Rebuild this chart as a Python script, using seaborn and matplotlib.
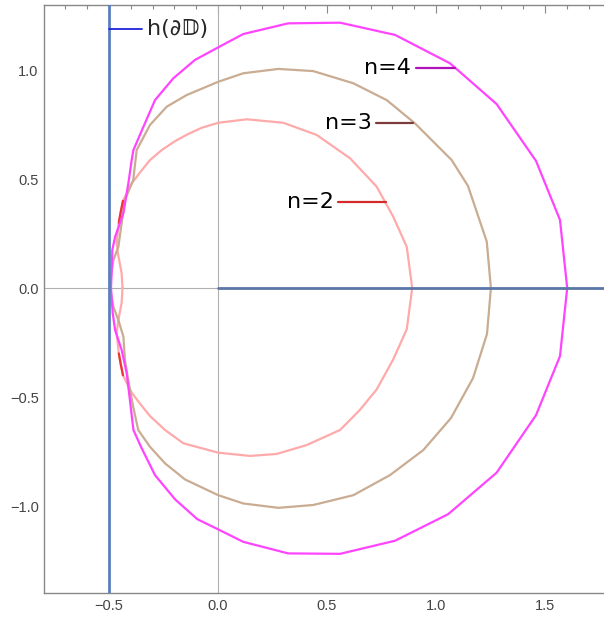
import matplotlib
matplotlib.use("Agg")
import matplotlib.pyplot as plt
import seaborn as sns
from matplotlib.ticker import MultipleLocator, FuncFormatter

# curve vertices (closed loops, start at the left point on y=0)
n2_x = [-0.438, -0.442, -0.458, -0.465, -0.455, -0.446, -0.436, -0.396, -0.350, -0.312, -0.258, -0.200,
        -0.144, -0.075, 0.001, 0.132, 0.300, 0.453, 0.606, 0.728, 0.804, 0.866, 0.891,
        0.866, 0.804, 0.728, 0.650, 0.560, 0.407, 0.269, 0.147, 0.001, -0.159, -0.243, -0.312,
        -0.350, -0.396, -0.436, -0.446, -0.455, -0.465, -0.458, -0.442, -0.438]
n2_y = [0.0, 0.067, 0.153, 0.205, 0.300, 0.350, 0.400, 0.480, 0.540, 0.587, 0.633, 0.672,
        0.703, 0.735, 0.758, 0.774, 0.758, 0.702, 0.595, 0.465, 0.327, 0.189, 0.0,
        -0.189, -0.327, -0.465, -0.560, -0.651, -0.720, -0.761, -0.770, -0.755, -0.712, -0.651, -0.587,
        -0.540, -0.480, -0.400, -0.350, -0.300, -0.205, -0.153, -0.067, 0.0]

n3_x = [-0.495, -0.492, -0.480, -0.457, -0.442, -0.427, -0.389, -0.373, -0.312, -0.235, -0.144,
        0.001, 0.116, 0.277, 0.437, 0.621, 0.774, 0.904, 1.072, 1.147, 1.233, 1.252,
        1.234, 1.170, 1.069, 0.942, 0.789, 0.621, 0.437, 0.277, 0.116, 0.001, -0.151, -0.243,
        -0.312, -0.366, -0.390, -0.412, -0.427, -0.434, -0.457, -0.480, -0.495]
n3_y = [0.0, 0.052, 0.128, 0.189, 0.298, 0.404, 0.495, 0.633, 0.748, 0.832, 0.885,
        0.946, 0.985, 1.005, 0.995, 0.939, 0.862, 0.755, 0.587, 0.468, 0.213, 0.0,
        -0.211, -0.413, -0.596, -0.743, -0.858, -0.950, -0.995, -1.008, -0.988, -0.950, -0.878, -0.804,
        -0.728, -0.651, -0.540, -0.422, -0.330, -0.223, -0.147, -0.086, 0.0]

n4_x = [-0.491, -0.488, -0.485, -0.472, -0.434, -0.411, -0.396, -0.388, -0.345, -0.289, -0.205, -0.106,
        0.001, 0.116, 0.322, 0.560, 0.812, 1.064, 1.278, 1.459, 1.569, 1.602,
        1.569, 1.459, 1.278, 1.056, 0.812, 0.560, 0.322, 0.116, 0.001, -0.095, -0.197, -0.289,
        -0.350, -0.388, -0.404, -0.419, -0.442, -0.472, -0.483, -0.491]
n4_y = [0.0, 0.069, 0.174, 0.235, 0.344, 0.482, 0.587, 0.633, 0.733, 0.862, 0.962, 1.046,
        1.104, 1.165, 1.214, 1.217, 1.161, 1.031, 0.844, 0.583, 0.312, 0.0,
        -0.312, -0.583, -0.847, -1.037, -1.159, -1.219, -1.217, -1.164, -1.107, -1.060, -0.969, -0.858,
        -0.735, -0.651, -0.514, -0.390, -0.284, -0.193, -0.115, 0.0]

# darker red bits where the n=2 curve overlaps itself
red_up_x = [-0.436, -0.446, -0.455]
red_up_y = [0.400, 0.350, 0.300]
red_dn_x = [-0.455, -0.446, -0.436]
red_dn_y = [-0.300, -0.350, -0.400]

# boundary lines
bound_x = [-0.5, -0.5]
bound_y = [-1.40, 1.30]
axis_x = [0.0, 1.78]
axis_y = [0.0, 0.0]

labels = ["n=2", "n=3", "n=4"]
label_line_x = [[0.552, 0.771], [0.725, 0.896], [0.907, 1.087]]
label_line_y = [0.396, 0.755, 1.008]
legend_line_x = [-0.5, -0.347]
legend_line_y = 1.187

sns.set_style("white")
plt.rcParams['font.family'] = ['Liberation Sans', 'DejaVu Sans']

fig = plt.figure(figsize=(6.04, 6.21), dpi=100)
ax = fig.add_axes([0.0733, 0.0446, 0.930, 0.948])

ax.axhline(0, color="#b0b0b0", lw=0.8, zorder=1)
ax.axvline(0, color="#b0b0b0", lw=0.8, zorder=1)

sns.lineplot(x=n2_x, y=n2_y, sort=False, estimator=None, color="#ffaaaa", lw=1.6, ax=ax, zorder=3)
sns.lineplot(x=n3_x, y=n3_y, sort=False, estimator=None, color="#c9ac92", lw=1.6, ax=ax, zorder=3)
sns.lineplot(x=red_up_x, y=red_up_y, sort=False, estimator=None, color="#ee3333", lw=1.6, ax=ax, zorder=3)
sns.lineplot(x=red_dn_x, y=red_dn_y, sort=False, estimator=None, color="#ee3333", lw=1.6, ax=ax, zorder=3)
sns.lineplot(x=n4_x, y=n4_y, sort=False, estimator=None, color="#ff44ff", lw=1.6, ax=ax, zorder=4)

ax.plot(bound_x, bound_y, color="#5b7fc0", lw=2.0, zorder=5)
ax.plot(axis_x, axis_y, color="#5a77a8", lw=2.0, zorder=5)

# labels
label_colors = ["#d42a2a", "#7f3c3c", "#b012b8"]
for txt, lx, ly, c in zip(labels, label_line_x, label_line_y, label_colors):
    ax.plot(lx, [ly, ly], color=c, lw=1.6, zorder=6)
    ax.text(lx[0] - 0.02, ly, txt, ha="right", va="center", fontsize=16, color="black",
            family="DejaVu Sans", zorder=6)

ax.plot(legend_line_x, [legend_line_y, legend_line_y], color="#2222dd", lw=1.3, zorder=6)
ax.text(-0.325, legend_line_y, "h(∂𝔻)", ha="left", va="center", fontsize=16,
        family="DejaVu Sans", zorder=6)

ax.set_xlim(-0.797, 1.78)
ax.set_ylim(-1.40, 1.30)

fmt = FuncFormatter(lambda v, p: f"{v:.1f}".replace("-", "\u2212"))
ax.xaxis.set_major_locator(MultipleLocator(0.5))
ax.xaxis.set_minor_locator(MultipleLocator(0.1))
ax.yaxis.set_major_locator(MultipleLocator(0.5))
ax.yaxis.set_minor_locator(MultipleLocator(0.1))
ax.xaxis.set_major_formatter(fmt)
ax.yaxis.set_major_formatter(fmt)
ax.tick_params(which="both", direction="in", top=True, right=False, color="#888888", width=0.8,
               labelsize=10.5, labelcolor="#444444", pad=4)
ax.tick_params(which="major", length=6)
ax.tick_params(which="minor", length=3)
for s in ax.spines.values():
    s.set_color("#888888")
    s.set_linewidth(1.0)
ax.spines["right"].set_visible(False)

fig.savefig("out.png", dpi=100)
